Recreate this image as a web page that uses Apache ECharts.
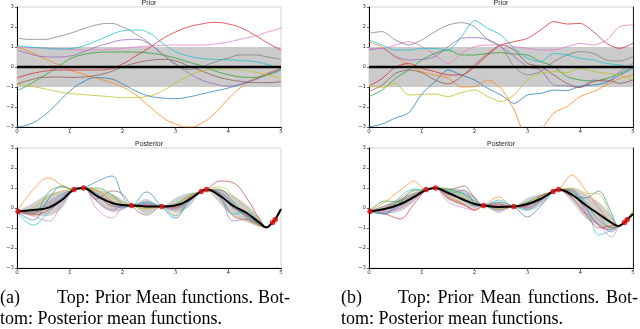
<!DOCTYPE html>
<html><head><meta charset="utf-8">
<script src="https://cdn.jsdelivr.net/npm/echarts@6/dist/echarts.min.js"></script>
<style>html,body{margin:0;padding:0;background:#fff;}#c{width:640px;height:329px;}</style>
</head><body><div id="c"></div>
<script>
// ---------- tick labels ----------
const xTickValues = [0, 1, 2, 3, 4, 5];
const yTickValues = [-3, -2, -1, 0, 1, 2, 3];
const panelTitles = ['Prior', 'Prior', 'Posterior', 'Posterior'];
const captionA = ['(a)', 'Top: Prior Mean functions. Bot-', 'tom: Posterior mean functions.'];
const captionB = ['(b)', 'Top: Prior Mean functions. Bot-', 'tom: Posterior mean functions.'];

// ---------- prior sample grid ----------
const priorX = [0,0.25,0.5,0.75,1,1.25,1.5,1.75,2,2.25,2.5,2.75,3,3.25,3.5,3.75,4,4.25,4.5,4.75,5];
const priorMean = [0,0,0,0,0,0,0,0,0,0,0,0,0,0,0,0,0,0,0,0,0];
const priorLo = [-1,-1,-1,-1,-1,-1,-1,-1,-1,-1,-1,-1,-1,-1,-1,-1,-1,-1,-1,-1,-1];
const priorHi = [1,1,1,1,1,1,1,1,1,1,1,1,1,1,1,1,1,1,1,1,1];

// (a) prior samples
const pA_blue   = [-3.0,-2.85,-2.45,-1.85,-1.2,-0.75,-0.53,-0.58,-0.85,-1.2,-1.45,-1.55,-1.58,-1.5,-1.35,-1.2,-1.05,-0.85,-0.6,-0.35,-0.1];
const pA_orange = [1.0,0.75,0.45,0.15,-0.15,-0.35,-0.55,-0.75,-1.0,-1.4,-1.95,-2.5,-2.85,-3.0,-2.8,-2.3,-1.6,-1.0,-0.6,-0.3,-0.05];
const pA_green  = [-1.2,-0.85,-0.45,-0.05,0.4,0.62,0.72,0.75,0.75,0.74,0.7,0.6,0.45,0.25,0.05,-0.2,-0.38,-0.5,-0.52,-0.4,-0.15];
const pA_red    = [-0.55,-0.35,-0.22,-0.15,-0.15,-0.15,-0.15,-0.1,0.15,0.55,0.95,1.4,1.75,2.0,2.15,2.23,2.15,1.95,1.6,1.2,0.85];
const pA_purple = [0.85,0.65,0.52,0.5,0.55,0.75,1.0,1.2,1.35,1.38,1.15,0.65,0.15,-0.3,-0.65,-0.85,-0.95,-0.85,-0.65,-0.35,-0.1];
const pA_brown  = [-0.85,-0.65,-0.52,-0.5,-0.52,-0.5,-0.42,-0.25,0.0,0.2,0.33,0.38,0.3,0.05,-0.2,-0.45,-0.62,-0.72,-0.78,-0.78,-0.73];
const pA_pink   = [1.0,0.97,0.95,0.92,0.88,0.85,0.85,0.88,0.93,1.0,1.05,1.08,1.1,1.1,1.1,1.15,1.25,1.4,1.55,1.75,1.95];
const pA_gray   = [1.45,1.38,1.38,1.5,1.68,1.9,2.1,2.18,2.0,1.65,1.2,0.65,0.15,-0.12,0.02,0.25,0.45,0.6,0.6,0.5,0.38];
const pA_olive  = [-0.85,-0.95,-1.08,-1.22,-1.32,-1.38,-1.43,-1.48,-1.53,-1.52,-1.45,-1.2,-0.8,-0.45,-0.2,-0.1,-0.1,-0.15,-0.25,-0.4,-0.57];
const pA_cyan   = [1.05,1.0,0.95,0.9,0.92,1.05,1.3,1.58,1.8,1.85,1.7,1.2,0.78,0.55,0.43,0.38,0.36,0.32,0.27,0.12,-0.07];

// (b) prior samples
const pB_blue   = [-3.0,-2.85,-2.55,-2.3,-1.35,-0.73,-0.15,-0.4,-0.65,-1.07,-1.4,-1.82,-1.4,-1.32,-1.15,-1.18,-0.95,-0.9,-0.78,-0.4,-0.07];
const pB_orange = [1.27,1.0,0.52,0.1,-0.23,-0.4,-0.57,-1.0,-0.98,-0.65,-1.07,-2.15,-3.5,-3.15,-2.3,-1.98,-1.48,-1.23,-0.9,-0.57,-0.4];
const pB_green  = [-1.48,-1.15,-0.57,-0.15,0.35,0.68,0.85,0.6,0.6,0.68,0.72,0.65,0.6,0.27,0.02,-0.48,-0.65,-0.7,-0.57,-0.32,0.0];
const pB_red    = [-0.95,-0.57,0.0,0.18,-0.07,-0.23,-0.4,-0.4,0.0,0.6,1.1,1.27,1.43,1.85,2.27,2.15,2.18,1.77,1.18,0.93,1.18];
const pB_purple = [0.85,0.93,0.52,0.35,0.38,0.52,1.02,1.43,1.47,1.38,1.02,0.52,0.02,-0.15,-0.9,-0.95,-1.02,-0.65,-0.73,-0.23,0.18];
const pB_brown  = [-1.23,-0.9,-0.32,-0.15,-0.28,-0.65,-0.85,-0.48,0.1,0.68,1.1,0.85,0.18,0.02,-0.4,-0.82,-1.02,-0.73,-0.65,-0.82,-0.65];
const pB_pink   = [0.93,0.93,1.1,1.27,1.02,0.6,0.18,0.68,1.02,1.1,1.1,1.02,0.93,0.85,0.85,1.02,1.18,1.1,1.35,2.02,2.1];
const pB_gray   = [1.68,1.77,1.35,1.1,1.35,1.77,2.1,2.22,2.02,1.35,1.02,0.02,-0.4,-0.23,0.27,0.6,0.77,0.68,0.35,0.3,0.52];
const pB_olive  = [-0.95,-1.02,-0.82,-1.4,-1.37,-1.35,-1.48,-1.28,-1.15,-1.48,-1.73,-1.4,-0.65,-0.32,-0.23,-0.28,-0.07,-0.23,-0.32,-0.4,-0.65];
const pB_cyan   = [1.35,1.1,0.85,0.85,0.93,0.93,0.85,1.52,2.32,1.93,1.6,0.93,0.43,0.27,0.68,0.6,0.43,0.35,0.18,0.1,0.0];

// ---------- posterior ----------
const obsX = [0.02,1.08,1.26,2.17,2.74,3.49,3.59,4.84,4.89];
const obsY = [-0.17,0.92,1.0,0.12,0.07,0.83,0.92,-0.72,-0.58];
const postX = [0,0.3,0.6,0.85,1.08,1.26,1.5,1.8,2.0,2.17,2.45,2.74,3.0,3.25,3.49,3.59,3.85,4.1,4.35,4.6,4.72,4.84,4.89,5.0];

// (a) posterior
const qA_mean = [-0.17,-0.1,0.02,0.4,0.92,1.0,0.62,0.25,0.15,0.12,0.08,0.07,0.12,0.4,0.83,0.92,0.6,0.1,-0.25,-0.75,-0.97,-0.72,-0.58,-0.05];
const qA_hi   = [-0.17,0.25,0.7,0.85,0.92,1.0,0.95,0.7,0.4,0.12,0.45,0.07,0.5,0.75,0.83,0.92,0.95,0.6,0.15,-0.5,-0.97,-0.72,-0.58,-0.05];
const qA_lo   = [-0.17,-0.35,-0.4,0.0,0.92,1.0,0.3,-0.2,-0.1,0.12,-0.3,0.07,-0.25,0.05,0.83,0.92,0.2,-0.45,-0.7,-0.95,-0.97,-0.72,-0.58,-0.05];
const qA_blue   = [-0.17,-0.6,0.45,1.1,0.92,1.0,1.3,1.6,0.6,0.12,0.8,0.07,-0.5,0.3,0.83,0.92,0.75,0.2,-0.5,-0.85,-0.95,-0.72,-0.58,-0.05];
const qA_orange = [-0.17,0.9,1.5,1.15,0.92,1.0,0.9,0.35,0.15,0.12,0.0,0.07,-0.35,0.5,0.83,0.92,0.5,-0.4,-0.6,-0.9,-0.98,-0.72,-0.58,-0.05];
const qA_green  = [-0.17,-0.3,0.8,1.05,0.92,1.0,1.0,0.65,0.2,0.12,0.05,0.07,0.2,0.6,0.83,0.92,0.9,0.3,-0.4,-0.85,-0.98,-0.72,-0.58,-0.05];
const qA_red    = [-0.17,-0.35,-0.1,0.4,0.92,1.0,0.7,0.1,0.05,0.12,0.15,0.07,0.0,0.5,0.83,0.92,1.35,1.25,0.5,-0.6,-0.95,-0.72,-0.58,-0.05];
const qA_purple = [-0.17,-0.2,0.2,0.6,0.92,1.0,0.4,-0.1,0.1,0.12,0.2,0.07,-0.1,0.4,0.83,0.92,0.5,-0.65,-0.55,-0.8,-0.97,-0.72,-0.58,-0.05];
const qA_brown  = [-0.17,-0.25,0.1,0.5,0.92,1.0,0.45,0.85,0.7,0.12,-0.35,0.07,0.1,0.45,0.83,0.92,0.7,0.0,-0.35,-0.8,-0.97,-0.72,-0.58,-0.05];
const qA_pink   = [-0.17,-0.4,-0.65,0.2,0.92,1.05,0.0,-0.5,0.0,0.12,0.15,0.07,0.05,0.45,0.83,0.92,0.85,0.1,-0.3,-0.8,-0.97,-0.72,-0.58,-0.05];
const qA_gray   = [-0.17,-0.15,0.3,0.7,0.92,1.0,0.75,0.3,0.1,0.12,0.3,0.07,0.0,0.35,0.83,0.92,0.6,0.0,-0.4,-0.75,-0.97,-0.72,-0.58,-0.05];
const qA_olive  = [-0.17,0.0,0.55,0.85,0.92,1.0,0.85,0.5,0.3,0.12,-0.05,0.07,0.15,0.55,0.83,0.92,1.05,0.6,0.0,-0.6,-0.95,-0.72,-0.58,-0.05];
const qA_cyan   = [-0.17,-0.85,-0.2,0.5,0.92,1.0,0.7,0.2,0.0,0.12,0.25,0.07,-0.4,0.4,0.83,0.92,0.55,-0.3,-0.2,-0.7,-0.97,-0.72,-0.58,-0.05];

// (b) posterior
const qB_mean = [-0.17,-0.05,0.2,0.55,0.9,1.0,0.75,0.4,0.2,0.12,0.05,0.07,0.2,0.45,0.83,0.92,0.65,0.15,-0.3,-0.75,-0.9,-0.72,-0.58,-0.3];
const qB_hi   = [-0.17,0.15,0.5,0.8,0.9,1.0,1.0,0.9,0.6,0.12,0.3,0.07,0.5,0.7,0.83,0.92,1.0,0.7,0.3,-0.4,-0.9,-0.72,-0.58,-0.3];
const qB_lo   = [-0.17,-0.3,-0.15,0.3,0.9,1.0,0.4,0.1,-0.05,0.12,-0.25,0.07,-0.15,0.15,0.83,0.92,0.3,-0.5,-0.9,-1.1,-0.9,-0.72,-0.58,-0.3];
const qB_blue   = [-0.17,-0.3,0.3,0.9,0.9,1.0,0.8,0.4,0.1,0.12,0.3,0.07,-0.45,0.1,0.83,0.92,0.6,0.5,0.85,-0.3,-0.9,-0.72,-0.58,-0.3];
const qB_orange = [-0.17,0.3,0.9,1.35,0.9,1.0,0.6,0.2,-0.1,0.12,0.55,0.07,0.2,0.5,0.83,0.92,1.65,0.9,0.0,-0.8,-0.9,-0.72,-0.58,-0.2];
const qB_green  = [-0.17,0.35,0.3,0.6,0.9,1.0,0.95,0.7,0.3,0.12,0.0,0.07,0.3,0.6,0.83,0.92,0.8,0.2,-0.6,-1.0,-0.9,-0.72,-0.58,-0.3];
const qB_red    = [-0.17,-0.3,-0.55,0.2,0.9,1.0,0.5,0.15,-0.1,0.12,0.2,0.07,0.1,0.6,0.83,0.92,0.5,-0.3,-1.0,-0.9,-0.9,-0.72,-0.58,-0.3];
const qB_purple = [-0.17,-0.2,0.1,0.5,0.9,1.0,0.7,0.9,0.2,0.12,-0.1,0.07,0.15,0.5,0.83,0.92,0.9,-0.2,-0.8,-1.2,-0.95,-0.72,-0.58,-0.3];
const qB_brown  = [-0.17,0.0,0.4,0.7,0.9,1.0,0.9,1.1,0.5,0.12,0.1,0.07,0.0,0.4,0.83,0.92,0.7,0.0,-0.9,-1.1,-0.92,-0.72,-0.58,-0.3];
const qB_pink   = [-0.17,-0.2,0.0,0.4,0.9,1.0,0.3,0.0,-0.1,0.12,0.0,0.07,0.0,0.3,0.83,0.92,0.75,0.0,-0.8,-1.45,-1.0,-0.72,-0.58,-0.3];
const qB_gray   = [-0.17,0.1,0.35,0.6,0.9,1.0,0.8,0.5,0.2,0.12,0.1,0.07,0.1,0.45,0.83,0.92,0.9,0.3,-0.4,-1.0,-0.92,-0.72,-0.58,-0.3];
const qB_olive  = [-0.17,-0.1,0.5,0.85,0.9,1.0,0.9,0.6,0.2,0.12,-0.05,0.07,0.25,0.55,0.83,0.92,1.0,0.75,0.7,-0.5,-0.9,-0.72,-0.58,-0.1];
const qB_cyan   = [-0.17,-0.3,0.6,0.95,0.9,1.0,0.85,0.7,0.35,0.12,0.4,0.07,-0.1,0.35,0.83,0.92,0.7,0.2,-1.35,-1.1,-0.92,-0.72,-0.58,-0.3];

const tab10 = ['#1f77b4','#ff7f0e','#2ca02c','#d62728','#9467bd','#8c564b','#e377c2','#7f7f7f','#bcbd22','#17becf'];

// ---------- build ----------
const gridsPx = [
  {left: 17, top: 7, width: 264, height: 120},
  {left: 369, top: 7, width: 264, height: 120},
  {left: 17, top: 148, width: 264, height: 120},
  {left: 369, top: 148, width: 264, height: 120}
];
const fmt = v => String(v).replace('-', '\u2212');
const pairs = (xs, ys) => xs.map((x, i) => [x, ys[i]]);

const grid = gridsPx.map(g => Object.assign({show: true, borderColor: '#d4d4d4', borderWidth: 1, backgroundColor: 'transparent'}, g));
const xAxis = gridsPx.map((g, i) => ({
  type: 'value', gridIndex: i, min: 0, max: 5, interval: 1,
  axisLine: {show: true, onZero: false, lineStyle: {color: '#000', width: 1}},
  axisTick: {show: true, length: 2, lineStyle: {color: '#000', width: 0.6}},
  axisLabel: {fontSize: 5.5, color: '#333', margin: 2, fontFamily: 'DejaVu Sans', formatter: fmt},
  splitLine: {show: false}
}));
const yAxis = gridsPx.map((g, i) => ({
  type: 'value', gridIndex: i, min: -3, max: 3, interval: 1,
  axisLine: {show: true, onZero: false, lineStyle: {color: '#000', width: 1}},
  axisTick: {show: true, length: 2, lineStyle: {color: '#000', width: 0.6}},
  axisLabel: {fontSize: 5.5, color: '#333', margin: 3, fontFamily: 'DejaVu Sans', formatter: fmt},
  splitLine: {show: false}
}));
[1, 3].forEach(gi => yAxis.push({
  type: 'value', gridIndex: gi, position: 'right', min: -3, max: 3, interval: 1,
  axisLine: {show: true, onZero: false, lineStyle: {color: '#222', width: 1}},
  axisTick: {show: false}, axisLabel: {show: false}, splitLine: {show: false}
}));

const series = [];
function band(gi, xs, lo, hi, color, smooth) {
  series.push({
    type: 'custom', xAxisIndex: gi, yAxisIndex: gi, silent: true, z: 1,
    data: xs.map((x, i) => [x, lo[i], hi[i]]), encode: {x: 0, y: [1, 2]},
    renderItem: function (params, api) {
      if (params.dataIndex !== 0) return;
      const up = xs.map((x, i) => api.coord([x, hi[i]]));
      const dn = xs.map((x, i) => api.coord([x, lo[i]])).reverse();
      return {type: 'polygon', shape: {points: up.concat(dn), smooth: smooth}, style: {fill: color}};
    }
  });
}
function line(gi, xs, ys, color, width, smooth, z, opacity) {
  series.push({type: 'line', xAxisIndex: gi, yAxisIndex: gi, data: pairs(xs, ys), symbol: 'none',
    smooth: smooth, lineStyle: {color: color, width: width, opacity: opacity}, silent: true, z: z});
}

band(0, priorX, priorLo, priorHi, '#cbcbcb', 0);
[pA_blue, pA_orange, pA_green, pA_red, pA_purple, pA_brown, pA_pink, pA_gray, pA_olive, pA_cyan]
  .forEach((s, k) => line(0, priorX, s, tab10[k], 0.9, 0.5, 2, 0.85));
line(0, priorX, priorMean, '#000', 2.6, false, 3, 1);

band(1, priorX, priorLo, priorHi, '#cbcbcb', 0);
[pB_blue, pB_orange, pB_green, pB_red, pB_purple, pB_brown, pB_pink, pB_gray, pB_olive, pB_cyan]
  .forEach((s, k) => line(1, priorX, s, tab10[k], 0.9, 0.25, 2, 0.85));
line(1, priorX, priorMean, '#000', 2.6, false, 3, 1);

band(2, postX, qA_lo, qA_hi, '#cfcfcf', 0.35);
[qA_blue, qA_orange, qA_green, qA_red, qA_purple, qA_brown, qA_pink, qA_gray, qA_olive, qA_cyan]
  .forEach((s, k) => line(2, postX, s, tab10[k], 0.8, 0.4, 2, 0.8));
line(2, postX, qA_mean, '#000', 2, 0.4, 3, 1);

band(3, postX, qB_lo, qB_hi, '#cfcfcf', 0.35);
[qB_blue, qB_orange, qB_green, qB_red, qB_purple, qB_brown, qB_pink, qB_gray, qB_olive, qB_cyan]
  .forEach((s, k) => line(3, postX, s, tab10[k], 0.8, 0.3, 2, 0.8));
line(3, postX, qB_mean, '#000', 2, 0.4, 3, 1);

[2, 3].forEach(gi => series.push({type: 'scatter', xAxisIndex: gi, yAxisIndex: gi, data: pairs(obsX, obsY),
  symbol: 'circle', symbolSize: 5, itemStyle: {color: '#ee1111', borderColor: '#990000', borderWidth: 0.5}, silent: true, z: 4}));

// texts
const graphic = [];
gridsPx.forEach((g, i) => graphic.push({type: 'text', x: g.left + g.width / 2, y: g.top - 4,
  style: {text: panelTitles[i], fill: '#222', font: '7px "Liberation Sans"', align: 'center', verticalAlign: 'middle'}}));

const capFont = '18px "Liberation Serif"';
const measureCtx = document.createElement('canvas').getContext('2d');
measureCtx.font = capFont;
function justified(words, x0, x1, y) {
  const widths = words.map(w => measureCtx.measureText(w).width);
  const total = widths.reduce((a, b) => a + b, 0);
  const gap = (x1 - x0 - total) / (words.length - 1);
  let x = x0;
  words.forEach((w, i) => {
    graphic.push({type: 'text', x: x, y: y, style: {text: w, fill: '#000', font: capFont, align: 'left', verticalAlign: 'middle'}});
    x += widths[i] + gap;
  });
}
function caption(cap, x0, x1) {
  graphic.push({type: 'text', x: x0, y: 298, style: {text: cap[0], fill: '#000', font: capFont, align: 'left', verticalAlign: 'middle'}});
  justified(cap[1].split(' '), x0 + 57, x1, 298);
  graphic.push({type: 'text', x: x0, y: 319, style: {text: cap[2], fill: '#000', font: capFont, align: 'left', verticalAlign: 'middle'}});
}
caption(captionA, 0, 290);
caption(captionB, 341, 638);

const chart = echarts.init(document.getElementById('c'), null, {renderer: 'canvas'});
chart.setOption({animation: false, grid, xAxis, yAxis, series, graphic});
</script></body></html>
